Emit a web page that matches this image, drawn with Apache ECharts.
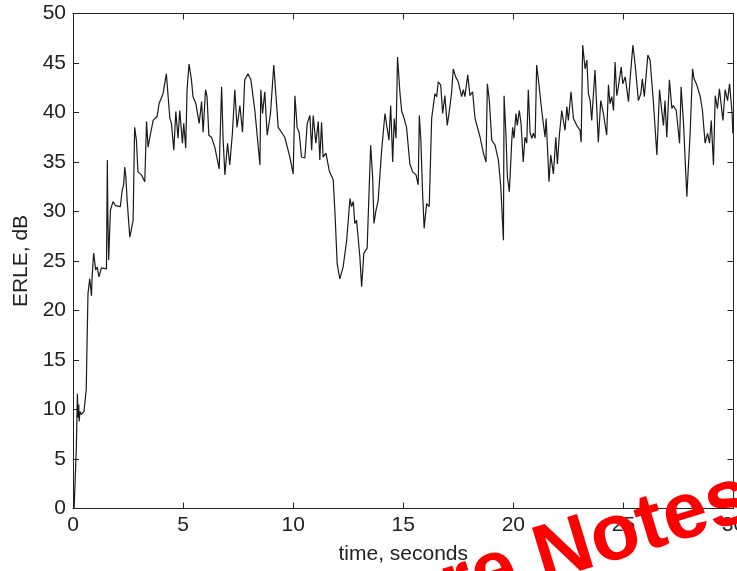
<!DOCTYPE html>
<html>
<head>
<meta charset="utf-8">
<title>ERLE vs time</title>
<script src="https://cdn.jsdelivr.net/npm/echarts@6/dist/echarts.min.js"></script>
<style>
  html, body { margin: 0; padding: 0; background: #fff; }
  #chart { width: 737px; height: 571px; }
</style>
</head>
<body>
<div id="chart"></div>
<script>
// Echo return loss enhancement over time
const timeSec = [
  0.05, 0.15, 0.2, 0.23, 0.26, 0.28, 0.32, 0.38, 0.5, 0.56, 0.6, 0.68, 0.76, 0.8, 0.84, 0.87, 0.94,
  1.03, 1.1, 1.18, 1.29, 1.52, 1.56, 1.58, 1.62, 1.7, 1.75, 1.82, 1.93, 2.15, 2.23, 2.3, 2.35, 2.4,
  2.46, 2.58, 2.73, 2.8, 2.88, 2.95, 3.11, 3.26, 3.34, 3.41, 3.49, 3.64, 3.71, 3.82, 3.91, 4.09,
  4.24, 4.4, 4.47, 4.58, 4.67, 4.77, 4.85, 4.97, 5.03, 5.12, 5.18, 5.27, 5.38, 5.45, 5.58, 5.73,
  5.84, 5.91, 6.02, 6.09, 6.17, 6.29, 6.44, 6.64, 6.75, 6.82, 6.9, 7.02, 7.12, 7.24, 7.35, 7.45,
  7.58, 7.7, 7.8, 7.95, 8.08, 8.26, 8.49, 8.53, 8.61, 8.71, 8.82, 8.97, 9.12, 9.32, 9.62, 9.85,
  10.0, 10.08, 10.18, 10.27, 10.38, 10.53, 10.64, 10.76, 10.84, 10.91, 11.03, 11.14, 11.21, 11.29,
  11.36, 11.49, 11.64, 11.82, 11.9, 12.0, 12.12, 12.27, 12.43, 12.58, 12.65, 12.73, 12.8, 12.88,
  12.95, 13.03, 13.11, 13.21, 13.36, 13.45, 13.52, 13.61, 13.67, 13.76, 13.86, 14.02, 14.17, 14.25,
  14.35, 14.43, 14.52, 14.59, 14.67, 14.74, 14.85, 14.93, 15.0, 15.15, 15.3, 15.43, 15.58, 15.68,
  15.73, 15.8, 15.88, 15.95, 16.06, 16.18, 16.29, 16.44, 16.52, 16.59, 16.7, 16.79, 16.89, 17.0,
  17.12, 17.2, 17.27, 17.38, 17.5, 17.65, 17.73, 17.8, 17.93, 18.03, 18.15, 18.26, 18.49, 18.64,
  18.76, 18.82, 18.91, 19.02, 19.17, 19.32, 19.43, 19.55, 19.58, 19.67, 19.73, 19.82, 19.93, 19.97,
  20.03, 20.12, 20.18, 20.27, 20.35, 20.45, 20.53, 20.61, 20.68, 20.76, 20.84, 20.91, 20.99, 21.06,
  21.14, 21.29, 21.44, 21.49, 21.55, 21.62, 21.7, 21.82, 21.93, 22.0, 22.09, 22.2, 22.27, 22.35,
  22.43, 22.5, 22.62, 22.73, 22.88, 23.03, 23.08, 23.15, 23.26, 23.34, 23.41, 23.49, 23.56, 23.71,
  23.86, 23.97, 24.09, 24.24, 24.32, 24.39, 24.47, 24.55, 24.62, 24.7, 24.77, 24.9, 24.97, 25.08,
  25.23, 25.3, 25.43, 25.53, 25.68, 25.79, 25.86, 25.95, 26.11, 26.21, 26.36, 26.52, 26.64, 26.74,
  26.82, 26.89, 26.97, 27.09, 27.2, 27.27, 27.4, 27.55, 27.62, 27.73, 27.88, 28.03, 28.14, 28.21,
  28.33, 28.49, 28.59, 28.71, 28.82, 28.91, 28.99, 29.09, 29.17, 29.27, 29.36, 29.52, 29.62, 29.73,
  29.82, 29.93, 29.97
];
const erleDb = [
  0.0, 6.0, 11.6, 9.2, 10.5, 8.8, 9.8, 9.5, 9.8, 10.0, 12.0, 21.7, 23.2, 23.0, 21.5, 23.5, 25.8,
  24.1, 24.4, 23.4, 24.3, 24.2, 35.2, 30.0, 25.1, 30.1, 30.5, 31.0, 30.6, 30.5, 32.1, 32.7, 34.5, 33.5,
  31.1, 27.4, 29.1, 38.5, 37.2, 34.0, 33.7, 33.0, 39.1, 36.5, 37.5, 39.2, 39.4, 39.6, 40.9, 41.9,
  43.9, 39.4, 38.9, 36.2, 40.1, 37.4, 40.2, 36.9, 38.9, 36.4, 42.3, 44.9, 43.3, 41.6, 40.9, 38.9,
  41.1, 38.0, 42.3, 41.6, 37.7, 37.5, 36.5, 34.3, 42.6, 37.2, 33.7, 36.9, 34.7, 37.9, 42.3, 38.5,
  40.7, 38.0, 43.3, 43.9, 43.3, 40.2, 34.7, 42.3, 39.9, 42.1, 37.7, 39.9, 44.8, 38.5, 37.5, 35.5,
  33.8, 41.7, 38.5, 38.0, 35.5, 35.4, 38.9, 39.7, 36.2, 39.7, 36.9, 39.1, 35.2, 39.0,
  35.5, 35.9, 34.1, 33.2, 29.8, 24.7, 23.2, 24.4, 27.1, 31.3, 30.5, 31.0, 28.8, 29.1,
  27.4, 25.4, 22.4, 25.8, 26.3, 32.2, 36.7, 33.5, 28.8, 30.1, 31.1, 36.2, 39.9, 38.7,
  37.2, 40.7, 35.0, 39.4, 37.4, 45.6, 42.0, 40.1, 39.7, 38.5, 34.8, 34.0, 33.7, 32.7,
  39.7, 37.2, 31.8, 28.3, 30.8, 30.5, 39.4, 41.9, 41.6, 43.1, 42.8, 39.9, 41.7, 38.7,
  40.6, 42.1, 44.4, 43.6, 43.1, 41.6, 42.3, 41.6, 43.8, 41.7, 42.1, 39.4, 37.5, 35.9,
  35.0, 42.9, 41.2, 37.2, 36.7, 35.2, 32.5, 27.1, 41.7, 37.5, 33.5, 32.0, 37.2, 38.5,
  37.4, 39.9, 38.7, 40.2, 38.9, 35.0, 37.5, 36.9, 42.3, 38.0, 37.4, 37.9, 37.4, 44.8,
  43.3, 40.2, 37.5, 39.4, 36.5, 33.0, 35.7, 33.8, 37.5, 34.8, 37.7, 40.2, 39.2, 38.2,
  40.6, 39.2, 42.1, 39.4, 38.7, 38.2, 37.0, 46.8, 44.4, 45.3, 41.9, 41.2, 39.2, 44.3,
  37.0, 41.2, 39.9, 37.7, 42.8, 40.9, 41.6, 40.2, 45.1, 41.7, 42.6, 44.6, 42.9, 43.6,
  41.1, 43.3, 46.8, 44.9, 41.2, 41.9, 43.4, 41.6, 45.8, 45.3, 41.1, 35.7, 42.3, 40.2,
  38.7, 41.2, 37.5, 43.3, 40.4, 40.7, 40.2, 36.9, 42.6, 38.9, 31.5, 37.9, 44.4, 43.4,
  42.8, 41.6, 40.2, 36.9, 37.9, 36.9, 39.2, 34.7, 41.7, 40.4, 42.4, 39.2, 42.3, 41.2,
  42.9, 40.1, 37.9
];

const xTicks = { min: 0, max: 30, interval: 5 };
const yTicks = { min: 0, max: 50, interval: 5 };
const xTitle = 'time, seconds';
const yTitle = 'ERLE, dB';
const stampText = 'Lecture Notes';

const FONT = '"Liberation Sans", Arial, Helvetica, sans-serif';
const INK = '#222';

const chart = echarts.init(document.getElementById('chart'), null, { renderer: 'canvas' });

const points = timeSec.map((t, i) => [t, erleDb[i]]);

function frameAxis(base, extra) {
  return Object.assign({
    type: 'value',
    min: base.min,
    max: base.max,
    interval: base.interval,
    splitLine: { show: false },
    axisLine: { show: true, onZero: false, lineStyle: { color: INK, width: 1 } },
    axisTick: { show: true, inside: true, length: 6, lineStyle: { color: INK, width: 1 } },
    axisLabel: { show: false }
  }, extra);
}

const tickLabel = { show: true, color: INK, fontFamily: FONT, fontSize: 21 };

// rotated red stamp across the lower-right corner
const angle = 17 * Math.PI / 180;

chart.setOption({
  animation: false,
  backgroundColor: '#fff',
  grid: {
    left: 73, right: 3.5, top: 13.5, bottom: 62.5,
    containLabel: false,
    outerBoundsMode: 'none'
  },
  xAxis: [
    frameAxis(xTicks, {
      position: 'bottom',
      axisLabel: Object.assign({ margin: 6 }, tickLabel),
      name: xTitle,
      nameLocation: 'middle',
      nameGap: 35,
      nameTextStyle: { color: INK, fontFamily: FONT, fontSize: 21 }
    }),
    frameAxis(xTicks, { position: 'top' })
  ],
  yAxis: [
    frameAxis(yTicks, {
      position: 'left',
      axisLabel: Object.assign({ margin: 7 }, tickLabel),
      name: yTitle,
      nameLocation: 'middle',
      nameGap: 41,
      nameTextStyle: { color: INK, fontFamily: FONT, fontSize: 21 }
    }),
    frameAxis(yTicks, { position: 'right' })
  ],
  series: [{
    type: 'line',
    xAxisIndex: 0,
    yAxisIndex: 0,
    data: points,
    showSymbol: false,
    symbol: 'none',
    lineStyle: { color: '#1a1a1a', width: 1.2 },
    z: 3
  }],
  graphic: [{
    type: 'text',
    x: 239,
    y: 652,
    rotation: angle,
    z: 100,
    silent: true,
    style: {
      text: stampText,
      font: 'bold 80px ' + FONT,
      fill: '#ff0000',
      textAlign: 'left',
      textVerticalAlign: 'middle'
    }
  }]
});
</script>
</body>
</html>
